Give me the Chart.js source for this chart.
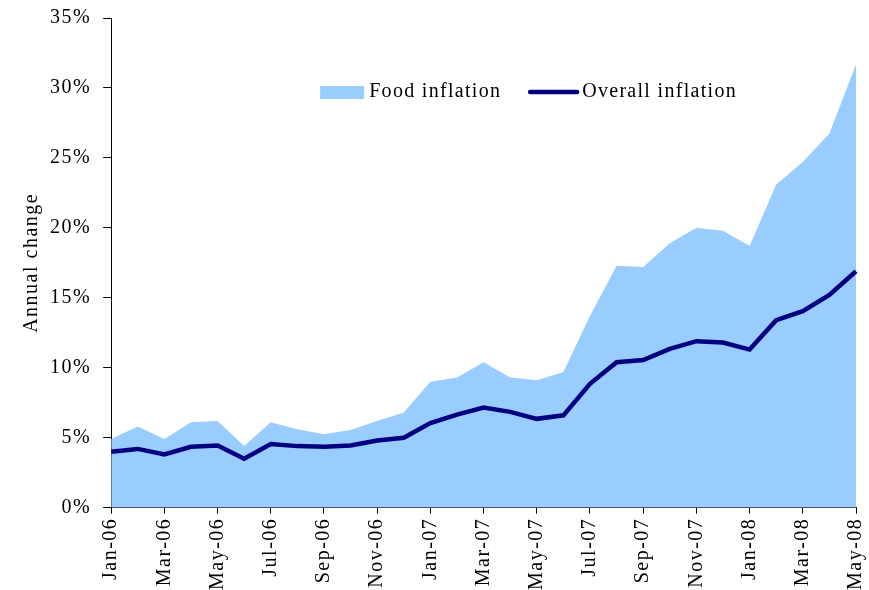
<!DOCTYPE html>
<html>
<head>
<meta charset="utf-8">
<script src="https://cdn.jsdelivr.net/npm/chart.js@4.4.1/dist/chart.umd.min.js"></script>
<style>
  html, body { margin: 0; padding: 0; background: #fff; }
  #wrap { width: 869px; height: 590px; }
</style>
</head>
<body>
<div id="wrap"><canvas id="chart"></canvas></div>
<script>
const months = [
  "Jan-06", "Feb-06", "Mar-06", "Apr-06", "May-06", "Jun-06", "Jul-06", "Aug-06", "Sep-06", "Oct-06", "Nov-06", "Dec-06",
  "Jan-07", "Feb-07", "Mar-07", "Apr-07", "May-07", "Jun-07", "Jul-07", "Aug-07", "Sep-07", "Oct-07", "Nov-07", "Dec-07",
  "Jan-08", "Feb-08", "Mar-08", "Apr-08", "May-08"
];
const foodInflation = [
  4.9, 5.8, 4.9, 6.1, 6.2, 4.4, 6.1, 5.6, 5.25, 5.55, 6.2, 6.8,
  9.0, 9.3, 10.4, 9.3, 9.1, 9.7, 13.7, 17.3, 17.2, 18.9, 20.0, 19.8,
  18.7, 23.1, 24.7, 26.75, 31.7
];
const overallInflation = [
  4.0, 4.2, 3.8, 4.35, 4.45, 3.5, 4.55, 4.4, 4.35, 4.45, 4.8, 5.0,
  6.05, 6.65, 7.15, 6.85, 6.35, 6.6, 8.85, 10.4, 10.55, 11.35, 11.9, 11.8,
  11.3, 13.4, 14.05, 15.2, 16.9
];

const serif = "'Liberation Serif', 'Times New Roman', serif";
const foodColor = "#99ccff";
const overallColor = "#000080";

// wider text like the original (Excel stretches its fonts)
const spacing = {
  id: "spacing",
  beforeLayout(chart) { chart.ctx.letterSpacing = "1.5px"; },
  beforeDraw(chart) { chart.ctx.letterSpacing = "1.5px"; }
};

// legend sits inside the plot area
const innerLegend = {
  id: "innerLegend",
  afterDraw(chart) {
    const ctx = chart.ctx;
    const area = chart.chartArea;
    const y = area.top + 74;
    ctx.save();
    ctx.letterSpacing = "1.3px";
    ctx.font = "20px " + serif;
    ctx.fillStyle = "#000";
    ctx.textBaseline = "middle";

    let x = area.left + 209;
    ctx.fillStyle = foodColor;
    ctx.fillRect(x, y - 6, 44, 13);
    ctx.fillStyle = "#000";
    ctx.fillText(chart.data.datasets[1].label, x + 49, y);

    x = area.left + 419;
    ctx.strokeStyle = overallColor;
    ctx.lineWidth = 4.5;
    ctx.lineCap = "round";
    ctx.beginPath();
    ctx.moveTo(x, y);
    ctx.lineTo(x + 47, y);
    ctx.stroke();
    ctx.fillText(chart.data.datasets[0].label, x + 52, y);
    ctx.restore();
  }
};

new Chart(document.getElementById("chart"), {
  type: "line",
  data: {
    labels: months,
    datasets: [
      {
        label: "Overall inflation",
        data: overallInflation,
        borderColor: overallColor,
        borderWidth: 4.5,
        pointRadius: 0,
        tension: 0,
        fill: false,
        order: 0,
      },
      {
        label: "Food inflation",
        data: foodInflation,
        borderWidth: 0,
        borderColor: foodColor,
        backgroundColor: foodColor,
        pointRadius: 0,
        tension: 0,
        fill: "origin",
        order: 1,
      },
    ],
  },
  options: {
    responsive: true,
    maintainAspectRatio: false,
    animation: false,
    layout: { padding: { top: 0, right: 0, left: 8, bottom: -4 } },
    plugins: {
      legend: { display: false },
      tooltip: { enabled: false },
    },
    scales: {
      x: {
        offset: false,
        afterFit: (s) => { s.paddingRight = 13; },
        grid: {
          drawOnChartArea: false,
          tickLength: 6,
          tickColor: (c) => (c.index % 2 ? "rgba(0,0,0,0)" : "#000"),
        },
        border: { color: "#000", width: 1 },
        ticks: {
          autoSkip: false,
          minRotation: 90,
          maxRotation: 90,
          padding: 4,
          color: "#000",
          font: { family: serif, size: 20 },
          callback: function (v, i) { return i % 2 ? "" : this.getLabelForValue(v); },
        },
      },
      y: {
        min: 0,
        max: 35,
        afterFit: (s) => { s.paddingTop = 18; },
        grid: { drawOnChartArea: false, tickLength: 8, color: "#000" },
        border: { color: "#000", width: 1 },
        ticks: {
          stepSize: 5,
          padding: 12,
          color: "#000",
          font: { family: serif, size: 20 },
          callback: (v) => v + "%",
        },
        title: {
          display: true,
          text: "Annual change",
          color: "#000",
          font: { family: serif, size: 20 },
          padding: { top: 12, bottom: -6 },
        },
      },
    },
  },
  plugins: [spacing, innerLegend],
});
</script>
</body>
</html>
